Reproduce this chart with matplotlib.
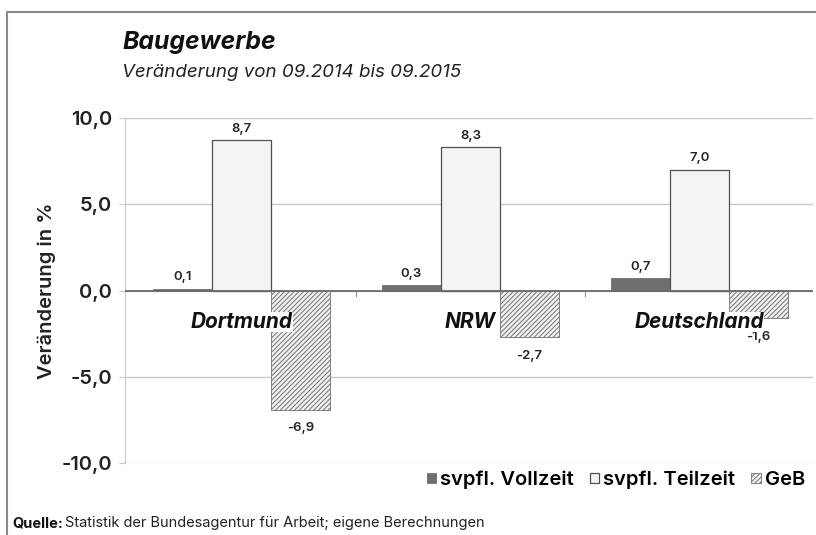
import matplotlib
matplotlib.use("Agg")
import matplotlib.pyplot as plt
import numpy as np
from matplotlib.patches import Rectangle

categories = ["Dortmund", "NRW", "Deutschland"]
series_names = ["svpfl. Vollzeit", "svpfl. Teilzeit", "GeB"]
vollzeit = [0.1, 0.3, 0.7]
teilzeit = [8.7, 8.3, 7.0]
geb = [-6.9, -2.7, -1.6]
yticks = [-10, -5, 0, 5, 10]
ytick_labels = ["-10,0", "-5,0", "0,0", "5,0", "10,0"]

plt.rcParams['font.family'] = ['Inter', 'DejaVu Sans']
plt.rcParams['hatch.color'] = '#4a4a4a'
plt.rcParams['hatch.linewidth'] = 0.7

fig = plt.figure(figsize=(8.16, 5.35), dpi=100)
ax = fig.add_axes([0.153, 0.1346, 0.843, 0.6448])

x = np.arange(len(categories))
w = 0.258
b1 = ax.bar(x - w, vollzeit, w, color='#6f6f6f', edgecolor='#6f6f6f', linewidth=0.6, label=series_names[0], zorder=3)
b2 = ax.bar(x, teilzeit, w, color='#f4f4f4', edgecolor='#505050', linewidth=0.9, label=series_names[1], zorder=3)
b3 = ax.bar(x + w, geb, w, color='#f2f2f2', edgecolor='#707070', hatch='///////', linewidth=0.6, label=series_names[2], zorder=3)

def fmt(v):
    return f"{v:.1f}".replace(".", ",")

for bars, vals in [(b1, vollzeit), (b2, teilzeit), (b3, geb)]:
    for rect, v in zip(bars, vals):
        cx = rect.get_x() + rect.get_width() / 2
        if v >= 0:
            ax.annotate(fmt(v), (cx, v), xytext=(0, 4), textcoords='offset points',
                        ha='center', va='bottom', fontsize=9.5, color='#222222', fontweight='semibold')
        else:
            ax.annotate(fmt(v), (cx, v), xytext=(0, -9), textcoords='offset points',
                        ha='center', va='top', fontsize=9.5, color='#222222', fontweight='semibold')

for xi, c in zip(x, categories):
    ax.text(xi, -1.8, c, ha='center', va='center', fontsize=15, fontweight='bold',
            fontstyle='italic', color='#111111', zorder=5,
            bbox=dict(facecolor='white', edgecolor='none', pad=0.0))

ax.set_xlim(-0.5 - 0.01, 2.5 - 0.004)
ax.set_ylim(-10, 10)
ax.set_yticks(yticks)
ax.set_yticklabels(ytick_labels, fontsize=14.5, fontweight='semibold', color='#222222')
ax.yaxis.grid(True, color='#c8c8c8', linewidth=1.0, zorder=0)
ax.set_axisbelow(True)
ax.axhline(0, color='#6a6a6a', linewidth=1.3, zorder=4)
ax.set_xticks([0.5, 1.5])
ax.set_xticklabels([])
ax.tick_params(axis='x', length=0)
ax.tick_params(axis='y', length=4, color='#c8c8c8', pad=5)
for s in ['top', 'right', 'bottom']:
    ax.spines[s].set_visible(False)
ax.spines['left'].set_color('#c8c8c8')
ax.set_ylabel("Veränderung in %", fontsize=14.5, fontweight='semibold', color='#222222', labelpad=4)

for xt in [0.5, 1.5]:
    ax.plot([xt, xt], [0, -0.3], color='#888888', lw=0.8, zorder=4)

leg = fig.legend(handles=[b1, b2, b3], labels=series_names, loc='center right',
                 bbox_to_anchor=(1.009, 1 - 480 / 535), ncol=3, frameon=False,
                 handlelength=0.45, handleheight=0.45, handletextpad=0.22,
                 columnspacing=0.8, prop={'weight': 'semibold', 'size': 14.5})

fig.text(122 / 816, 1 - 42 / 535, "Baugewerbe", fontsize=17.8, fontweight='bold',
         fontstyle='italic', ha='left', va='center', color='#111111')
fig.text(122 / 816, 1 - 72 / 535, "Veränderung von 09.2014 bis 09.2015", fontsize=13.5,
         fontstyle='italic', ha='left', va='center', color='#222222')
fig.text(12 / 816, 1 - 523 / 535, "Quelle:", fontsize=10.5, fontweight='bold',
         ha='left', va='center', color='#111111')
fig.text(65 / 816, 1 - 523 / 535, "Statistik der Bundesagentur für Arbeit; eigene Berechnungen",
         fontsize=10.5, ha='left', va='center', color='#222222')

fig.patches.append(Rectangle((7 / 816, -0.2), 1.2, 1.2 - 12 / 535 + 0.0, transform=fig.transFigure,
                             fill=False, edgecolor='#8a8a8a', linewidth=1.5))

fig.savefig("out.png", dpi=100)
